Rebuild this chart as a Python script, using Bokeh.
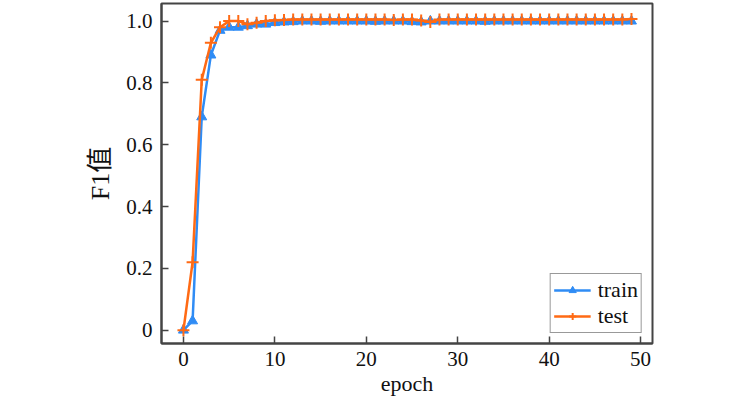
from bokeh.plotting import figure
from bokeh.models import FixedTicker, Range1d, Legend, LegendItem
from bokeh.embed import file_html
from bokeh.resources import INLINE

epochs = list(range(50))
train = [0.0, 0.03, 0.69, 0.89, 0.97, 0.98, 0.98, 0.985, 0.99, 0.99,
         0.995, 0.997, 0.998, 1.0, 1.0, 0.999, 1.0, 1.0, 1.0, 1.0,
         1.0, 0.999, 1.0, 1.0, 1.0, 0.998, 0.997, 1.0, 1.0, 1.0,
         1.0, 1.0, 1.0, 0.999, 1.0, 1.0, 1.0, 1.0, 1.0, 1.0,
         1.0, 1.0, 1.0, 1.0, 1.0, 1.0, 1.0, 1.0, 1.0, 1.0]
test = [0.0, 0.22, 0.81, 0.93, 0.98, 1.0, 1.0, 0.99, 0.995, 1.0,
        1.003, 1.004, 1.005, 1.005, 1.005, 1.005, 1.005, 1.005, 1.005, 1.005,
        1.005, 1.005, 1.005, 1.004, 1.005, 1.005, 1.002, 0.997, 1.005, 1.005,
        1.005, 1.005, 1.005, 1.005, 1.005, 1.005, 1.005, 1.005, 1.005, 1.005,
        1.005, 1.005, 1.005, 1.005, 1.005, 1.005, 1.005, 1.005, 1.005, 1.007]
x_ticks = [0, 10, 20, 30, 40, 50]
y_ticks = [0, 0.2, 0.4, 0.6, 0.8, 1.0]
y_labels = {0: "0", 0.2: "0.2", 0.4: "0.4", 0.6: "0.6", 0.8: "0.8", 1.0: "1.0"}

BLUE = "#2f8cf5"
ORANGE = "#ff6a14"
FONT = "Liberation Serif, Noto Sans CJK SC"
AX = "#444444"

p = figure(width=750, height=398, output_backend="svg", toolbar_location=None,
           x_range=Range1d(-2.4, 51.3), y_range=Range1d(-0.043, 1.057))
p.min_border_left = 161
p.min_border_right = 98
p.min_border_top = 3
p.min_border_bottom = 54
p.background_fill_color = "white"
p.border_fill_color = "white"
p.grid.visible = False
p.outline_line_color = AX
p.outline_line_width = 2

for ax in (p.xaxis[0], p.yaxis[0]):
    ax.axis_line_color = AX
    ax.axis_line_width = 2
    ax.major_tick_in = 7
    ax.major_tick_out = 0
    ax.major_tick_line_color = AX
    ax.major_tick_line_width = 1.5
    ax.minor_tick_line_color = None
    ax.major_label_text_font = FONT
    ax.major_label_text_font_size = "21px"
    ax.major_label_text_color = "#111111"
    ax.axis_label_text_font = FONT
    ax.axis_label_text_font_style = "normal"
    ax.axis_label_text_color = "#111111"

p.xaxis.axis_label_text_font_size = "22px"
p.yaxis.axis_label_text_font_size = "26px"
p.xaxis.ticker = FixedTicker(ticks=x_ticks)
p.yaxis.ticker = FixedTicker(ticks=y_ticks)
p.yaxis.major_label_overrides = y_labels
p.xaxis.axis_label = "epoch"
p.yaxis.axis_label = "F1值"
p.xaxis.major_label_standoff = 8
p.yaxis.major_label_standoff = 9
p.xaxis.axis_label_standoff = 2
p.yaxis.axis_label_standoff = 8

l1 = p.line(epochs, train, line_color=BLUE, line_width=2.5)
m1 = p.scatter(epochs, train, marker="triangle", size=10, fill_color=BLUE, line_color=BLUE)
l2 = p.line(epochs, test, line_color=ORANGE, line_width=2.5)
m2 = p.scatter(epochs, test, marker="cross", size=12, line_color=ORANGE, line_width=2)

legend = Legend(items=[LegendItem(label="train", renderers=[l1, m1]),
                       LegendItem(label="test", renderers=[l2, m2])],
                location="bottom_right")
legend.label_text_font = FONT
legend.label_text_font_size = "22px"
legend.label_text_color = "#111111"
legend.border_line_color = "#333333"
legend.border_line_width = 1.5
legend.glyph_width = 37
legend.label_standoff = 7
legend.spacing = 0
legend.padding = 3
legend.margin = 10
legend.label_height = 18
legend.glyph_height = 18
p.add_layout(legend)

open("out.html", "w").write(file_html(p, INLINE))
